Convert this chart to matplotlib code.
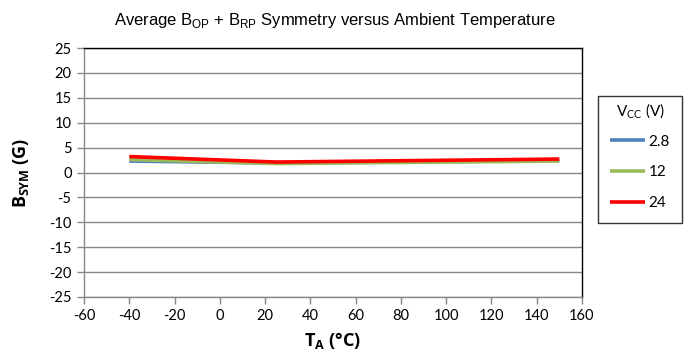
import matplotlib

matplotlib.use("Agg")
import matplotlib.pyplot as plt
from matplotlib.ticker import MultipleLocator

plt.rcParams["axes.unicode_minus"] = False

temps = [-40, 25, 150]
vcc_labels = ["2.8", "12", "24"]
bsym_28 = [2.3, 1.9, 2.4]
bsym_12 = [2.6, 1.8, 2.3]
bsym_24 = [3.2, 2.1, 2.7]
colors = ["#4f81bd", "#9bbb59", "#ff0000"]

W, H = 692, 355
fig = plt.figure(figsize=(W / 100, H / 100), dpi=100)
ax = fig.add_axes([84 / W, 1 - 297 / H, (582 - 84) / W, (297 - 48) / H])

for vals, lab, col in zip([bsym_28, bsym_12, bsym_24], vcc_labels, colors):
    ax.plot(temps, vals, color=col, linewidth=2.6, label=lab, solid_capstyle="butt")

ax.set_xlim(-60, 160)
ax.set_ylim(-25, 25)
ax.xaxis.set_major_locator(MultipleLocator(20))
ax.yaxis.set_major_locator(MultipleLocator(5))
ax.grid(True, axis="y", color="#888888", linewidth=1.0)
ax.set_axisbelow(True)
for side in ["top", "right"]:
    ax.spines[side].set_color("black")
    ax.spines[side].set_linewidth(1.0)
for side in ["left", "bottom"]:
    ax.spines[side].set_color("#888888")
    ax.spines[side].set_linewidth(1.0)
ax.tick_params(axis="both", colors="#888888", length=5, width=1, labelsize=10.5,
               labelcolor="black", direction="out", pad=4)
for lbl in ax.get_xticklabels() + ax.get_yticklabels():
    lbl.set_family("Lato")

ax.set_xlabel(r"T$_\mathregular{A}$ (°C)", fontsize=13, fontweight="bold",
              family="Open Sans", labelpad=5)
ax.set_ylabel(r"B$_\mathregular{SYM}$ (G)", fontsize=13, fontweight="bold",
              family="Open Sans", labelpad=13)
fig.text(335 / W, 1 - 20 / H,
         r"Average B$_\mathregular{OP}$ + B$_\mathregular{RP}$ Symmetry versus Ambient Temperature",
         ha="center", va="center", fontsize=12, family="Liberation Sans")

leg = fig.legend(loc="upper left", bbox_to_anchor=(598 / W, 1 - 96 / H),
                 title=r"V$_\mathregular{CC}$ (V)", fontsize=11, title_fontsize=11,
                 frameon=True, fancybox=False, edgecolor="black", handlelength=2.3,
                 handletextpad=0.2, labelspacing=1.1, borderpad=0.35,
                 borderaxespad=0)
leg.get_frame().set_linewidth(1.0)
for t in leg.get_texts():
    t.set_family("Lato")
leg.get_title().set_family("Lato")
leg._legend_box.sep = 5
leg._legend_handle_box.pad = 5

fig.savefig("out.png", dpi=100)
